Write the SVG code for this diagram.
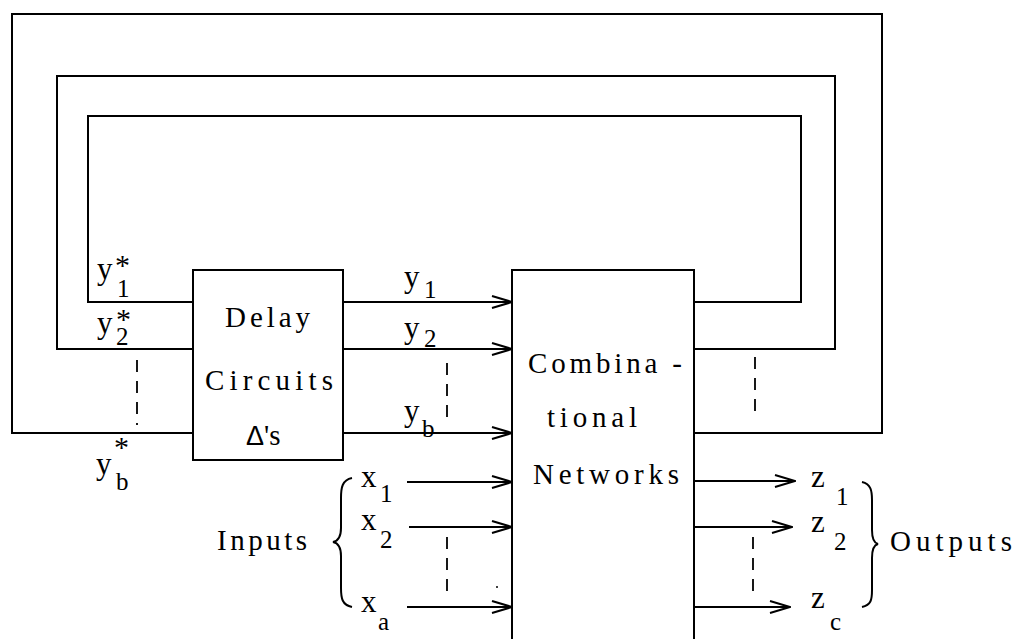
<svg xmlns="http://www.w3.org/2000/svg" width="1016" height="639" viewBox="0 0 1016 639">
<defs>
<style>
.ln{fill:none;stroke:#000;stroke-width:2;stroke-linejoin:miter}
.dash{fill:none;stroke:#000;stroke-width:1.8;stroke-dasharray:12 9}
.box{fill:#fff;stroke:#000;stroke-width:2}
.w{font-family:"Liberation Serif",serif;font-size:29px;fill:#000}
.v{font-family:"Liberation Serif",serif;font-size:31px;fill:#000}
.s{font-size:25px}
.a{font-size:30px}
</style>
<marker id="arr" viewBox="0 0 22 14" refX="21" refY="7" markerWidth="22" markerHeight="14" markerUnits="userSpaceOnUse" orient="auto">
<path d="M1,1 L21,7 L1,13" fill="none" stroke="#000" stroke-width="2"/>
</marker>
</defs>
<rect width="1016" height="639" fill="#fff"/>
<g id="connectors">
<path class="ln" d="M193,302 H88 V116 H801 V302 H694"/>
<path class="ln" d="M193,349 H57 V76 H835 V349 H694"/>
<path class="ln" d="M193,433 H12 V14 H882 V433 H694"/>
<line class="ln" x1="343" y1="302" x2="512" y2="302" marker-end="url(#arr)"/>
<line class="ln" x1="343" y1="349" x2="512" y2="349" marker-end="url(#arr)"/>
<line class="ln" x1="343" y1="433" x2="512" y2="433" marker-end="url(#arr)"/>
<line class="ln" x1="407" y1="482" x2="512" y2="482" marker-end="url(#arr)"/>
<line class="ln" x1="409" y1="527" x2="512" y2="527" marker-end="url(#arr)"/>
<line class="ln" x1="407" y1="607" x2="512" y2="607" marker-end="url(#arr)"/>
<line class="ln" x1="694" y1="481" x2="795" y2="481" marker-end="url(#arr)"/>
<line class="ln" x1="694" y1="527" x2="792" y2="527" marker-end="url(#arr)"/>
<line class="ln" x1="694" y1="607" x2="790" y2="607" marker-end="url(#arr)"/>
<line class="dash" x1="137" y1="360" x2="137" y2="425"/>
<line class="dash" x1="447" y1="363" x2="447" y2="425"/>
<line class="dash" x1="755" y1="357" x2="755" y2="418"/>
<line class="dash" x1="447" y1="537" x2="447" y2="598"/>
<line class="dash" x1="753" y1="537" x2="753" y2="593"/>
<circle cx="497" cy="587" r="1" fill="#000"/>
</g>
<g id="delay">
<rect class="box" x="193" y="270" width="150" height="190"/>
<text class="w" x="225" y="327" textLength="85" lengthAdjust="spacing">Delay</text>
<text class="w" x="205" y="390" textLength="128" lengthAdjust="spacing">Circuits</text>
<text class="w" x="246" y="445" font-size="28"><tspan font-family="Liberation Sans" font-size="27">Δ</tspan>'s</text>
</g>
<g id="combinational">
<path class="box" d="M512,645 V270 H694 V645"/>
<text class="w" x="528" y="373" textLength="154" lengthAdjust="spacing">Combina -</text>
<text class="w" x="547" y="427" textLength="90" lengthAdjust="spacing">tional</text>
<text class="w" x="533" y="484" textLength="146" lengthAdjust="spacing">Networks</text>
</g>
<g id="feedback-labels">
<text class="v" x="97" y="279">y<tspan class="a" x="115" y="275">*</tspan><tspan class="s" x="117" y="297">1</tspan></text>
<text class="v" x="97" y="333">y<tspan class="a" x="116" y="329">*</tspan><tspan class="s" x="116" y="345">2</tspan></text>
<text class="v" x="114" y="457"><tspan class="a">*</tspan><tspan x="96" y="474">y</tspan><tspan class="s" x="116" y="490">b</tspan></text>
</g>
<g id="state-labels">
<text class="v" x="404" y="287">y<tspan class="s" x="424" y="298">1</tspan></text>
<text class="v" x="404" y="338">y<tspan class="s" x="424" y="347">2</tspan></text>
<text class="v" x="404" y="421">y<tspan class="s" x="422" y="437">b</tspan></text>
</g>
<g id="inputs">
<text class="w" x="217" y="550" textLength="90" lengthAdjust="spacing">Inputs</text>
<path class="ln" d="M352,478 C342,480 341,488 341,498 V528 C341,537 338,541 333,542 C338,543 341,547 341,556 V588 C341,598 342,605 352,607" stroke-width="1.8"/>
<text class="v" x="361" y="487">x<tspan class="s" x="380" y="502">1</tspan></text>
<text class="v" x="361" y="530">x<tspan class="s" x="380" y="548">2</tspan></text>
<text class="v" x="361" y="612">x<tspan class="s" x="378" y="630">a</tspan></text>
</g>
<g id="outputs">
<text class="v" x="811" y="487">z<tspan class="s" x="836" y="505">1</tspan></text>
<text class="v" x="811" y="532">z<tspan class="s" x="834" y="550">2</tspan></text>
<text class="v" x="811" y="608">z<tspan class="s" x="830" y="630">c</tspan></text>
<path class="ln" d="M862,482 C871,484 872,491 872,500 V530 C872,539 874,543 878,544 C874,545 872,549 872,558 V590 C872,600 871,605 862,607" stroke-width="1.8"/>
<text class="w" x="890" y="551" textLength="122" lengthAdjust="spacing">Outputs</text>
</g>
</svg>
